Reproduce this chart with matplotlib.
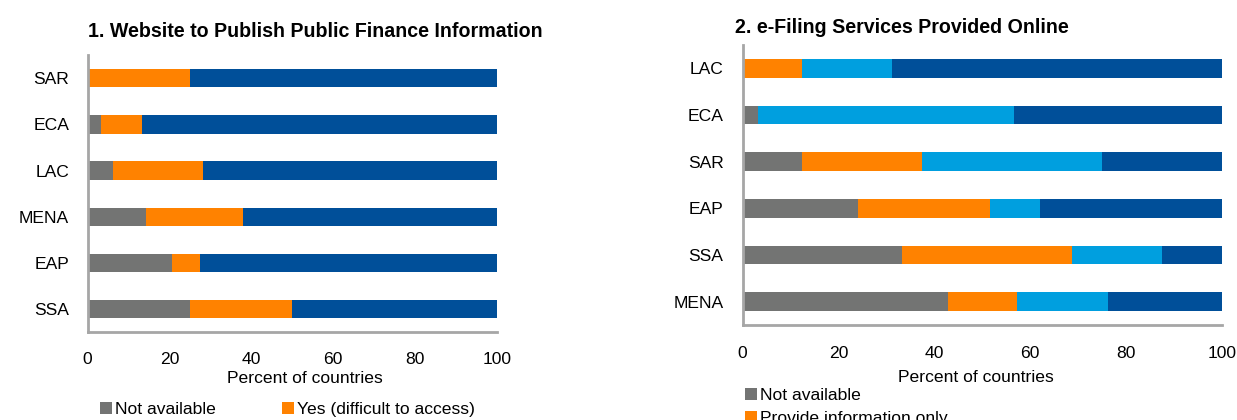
import matplotlib
matplotlib.use("Agg")
import matplotlib.pyplot as plt
import numpy as np

plt.rcParams['font.family'] = ['Liberation Sans', 'DejaVu Sans']

# ---- Data ----
left_regions = ["SAR", "ECA", "LAC", "MENA", "EAP", "SSA"]
left_not_available = [0.0, 3.3, 6.3, 14.3, 20.7, 25.0]
left_difficult = [25.0, 10.0, 21.9, 23.8, 6.9, 25.0]
left_easy = [75.0, 86.7, 71.8, 61.9, 72.4, 50.0]

right_regions = ["LAC", "ECA", "SAR", "EAP", "SSA", "MENA"]
right_not_available = [0.0, 3.3, 12.5, 24.1, 33.3, 42.9]
right_info_only = [12.5, 0.0, 25.0, 27.6, 35.4, 14.3]
right_partial = [18.8, 53.3, 37.5, 10.3, 18.8, 19.0]
right_full = [68.7, 43.4, 25.0, 38.0, 12.5, 23.8]

x_ticks = [0, 20, 40, 60, 80, 100]

GRAY = "#737473"
ORANGE = "#FF8200"
LIGHT = "#009FDF"
DARK = "#004F99"
SPINE = "#A6A6A6"
FS = 12.6

fig = plt.figure(figsize=(12.37, 4.2), dpi=100)
W, H = 1237.0, 420.0

def add_axes(x0, x1, ytop, ybot):
    return fig.add_axes([x0 / W, 1 - ybot / H, (x1 - x0) / W, (ybot - ytop) / H])

ax1 = add_axes(87.5, 496.7, 55.0, 332.3)
ax2 = add_axes(742.5, 1221.7, 45.0, 325.0)

def style(ax, regions, ypad, xpad):
    y = np.arange(len(regions))
    ax.set_ylim(len(regions) - 0.5, -0.5)
    ax.set_xlim(0, 100)
    ax.set_yticks(y)
    ax.set_yticklabels(regions, fontsize=FS, color="#000000")
    ax.set_xticks(x_ticks)
    ax.set_xticklabels([str(t) for t in x_ticks], fontsize=FS, color="#000000")
    ax.tick_params(axis='y', length=0, pad=ypad)
    ax.tick_params(axis='x', length=0, pad=xpad)
    for s in ("top", "right"):
        ax.spines[s].set_visible(False)
    for s in ("left", "bottom"):
        ax.spines[s].set_color(SPINE)
        ax.spines[s].set_linewidth(2.0)
    ax.set_facecolor("none")

def stacked(ax, regions, series, colors, labels):
    y = np.arange(len(regions))
    left = np.zeros(len(regions))
    handles = []
    for vals, c, lab in zip(series, colors, labels):
        v = np.array(vals)
        h = ax.barh(y, v, left=left, height=0.4, color=c, linewidth=0, label=lab)
        handles.append(h)
        left = left + v
    return handles

h1 = stacked(ax1, left_regions,
             [left_not_available, left_difficult, left_easy],
             [GRAY, ORANGE, DARK],
             ["Not available", "Yes (difficult to access)", "Yes (easy to access)"])
style(ax1, left_regions, 13.2, 14.5)

h2 = stacked(ax2, right_regions,
             [right_not_available, right_info_only, right_partial, right_full],
             [GRAY, ORANGE, LIGHT, DARK],
             ["Not available", "Provide information only", "Partial e-filing", "Full e-filing"])
style(ax2, right_regions, 13.7, 15.0)

ax1.set_xlabel("Percent of countries", fontsize=FS)
ax1.xaxis.set_label_coords(0.5315, -0.140)
ax2.set_xlabel("Percent of countries", fontsize=FS)
ax2.xaxis.set_label_coords(0.487, -0.160)

# Titles
fig.text(88.3 / W, 1 - 36.7 / H, "1. Website to Publish Public Finance Information",
         fontsize=14.1, fontweight="bold", ha="left", va="baseline")
fig.text(735 / W, 1 - 33.0 / H, "2. e-Filing Services Provided Online",
         fontsize=14.1, fontweight="bold", ha="left", va="baseline")

# Legends
fig.legend(handles=[h1[0], h1[1]], labels=["Not available", "Yes (difficult to access)"],
           loc="upper left", bbox_to_anchor=(100 / W, 1 - 401.5 / H), ncol=2,
           frameon=False, fontsize=FS, borderpad=0, borderaxespad=0,
           handlelength=0.69, handleheight=0.69, handletextpad=0.19,
           columnspacing=3.75)
fig.legend(handles=[h2[0], h2[1]], labels=["Not available", "Provide information only"],
           loc="upper left", bbox_to_anchor=(745.3 / W, 1 - 388.0 / H), ncol=1,
           frameon=False, fontsize=FS, borderpad=0, borderaxespad=0,
           handlelength=0.65, handleheight=0.65, handletextpad=0.19,
           labelspacing=0.45)

fig.savefig("out.png", dpi=100)
